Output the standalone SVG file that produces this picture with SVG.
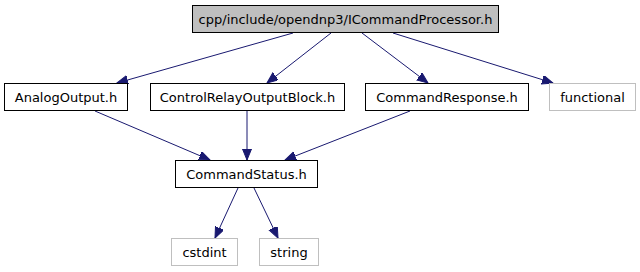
<svg xmlns="http://www.w3.org/2000/svg" width="640" height="272" viewBox="0 0 640 272">
  <style>
    .box { fill: #ffffff; stroke: #000000; stroke-width: 1; }
    .ext { fill: #ffffff; stroke: #bfbfbf; stroke-width: 1; }
    .cur { fill: #bfbfbf; stroke: #000000; stroke-width: 1; }
    .lbl { font-family: "DejaVu Sans", sans-serif; font-size: 13px; fill: #000000; text-anchor: middle; }
    .edge { stroke: #191970; stroke-width: 1; fill: none; marker-end: url(#arrow); }
  </style>
  <defs>
    <marker id="arrow" markerUnits="userSpaceOnUse" markerWidth="12" markerHeight="10" refX="11" refY="4.5" orient="auto">
      <path d="M0,0 L11,4.5 L0,9 Z" fill="#191970" stroke="#191970" stroke-width="1"/>
    </marker>
  </defs>
  <rect width="640" height="272" fill="#ffffff"/>

  <g id="edges">
    <line class="edge" x1="293" y1="33" x2="117" y2="83"/>
    <line class="edge" x1="331" y1="33" x2="267" y2="83"/>
    <line class="edge" x1="362" y1="33" x2="428" y2="83"/>
    <line class="edge" x1="393" y1="33" x2="553" y2="83"/>
    <line class="edge" x1="95" y1="111" x2="210" y2="160"/>
    <line class="edge" x1="247" y1="111" x2="247" y2="160"/>
    <line class="edge" x1="410" y1="111" x2="285" y2="160"/>
    <line class="edge" x1="238" y1="188" x2="215" y2="238"/>
    <line class="edge" x1="254" y1="188" x2="278" y2="238"/>
  </g>

  <g id="node-ICommandProcessor">
    <rect class="cur" x="192.5" y="5.5" width="306" height="27"/>
    <text class="lbl" x="345.5" y="23.5">cpp/include/opendnp3/ICommandProcessor.h</text>
  </g>
  <g id="node-AnalogOutput">
    <rect class="box" x="4.5" y="83.5" width="123" height="27"/>
    <text class="lbl" x="66" y="101.5">AnalogOutput.h</text>
  </g>
  <g id="node-ControlRelayOutputBlock">
    <rect class="box" x="150.5" y="83.5" width="194" height="27"/>
    <text class="lbl" x="247.5" y="101.5">ControlRelayOutputBlock.h</text>
  </g>
  <g id="node-CommandResponse">
    <rect class="box" x="365.5" y="83.5" width="163" height="27"/>
    <text class="lbl" x="447" y="101.5">CommandResponse.h</text>
  </g>
  <g id="node-functional">
    <rect class="ext" x="549.5" y="83.5" width="86" height="27"/>
    <text class="lbl" x="592.5" y="101.5">functional</text>
  </g>
  <g id="node-CommandStatus">
    <rect class="box" x="175.5" y="160.5" width="142" height="27"/>
    <text class="lbl" x="246.5" y="178.5">CommandStatus.h</text>
  </g>
  <g id="node-cstdint">
    <rect class="ext" x="171.5" y="238.5" width="66" height="27"/>
    <text class="lbl" x="204.5" y="256.5">cstdint</text>
  </g>
  <g id="node-string">
    <rect class="ext" x="259.5" y="238.5" width="59" height="27"/>
    <text class="lbl" x="289" y="256.5">string</text>
  </g>
</svg>
